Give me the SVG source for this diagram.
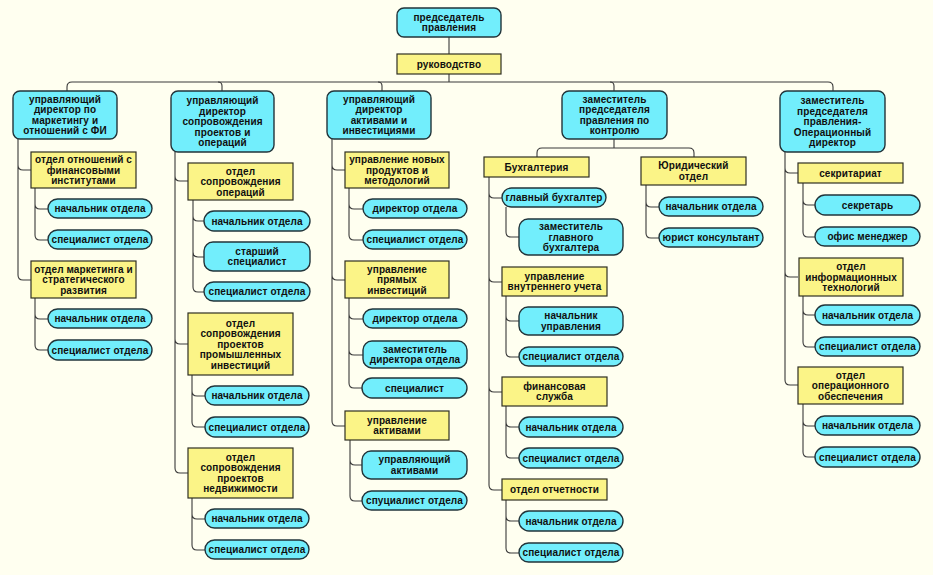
<svg xmlns="http://www.w3.org/2000/svg" width="933" height="575" viewBox="0 0 933 575">
<style>
.bg{fill:#FFFFF0}
.c{fill:#72EEFC;stroke:#22343a;stroke-width:1.4}
.y{fill:#FBF487;stroke:#2f2f22;stroke-width:1.2}
.ln{fill:none;stroke:#3a3a3a;stroke-width:1.1}
text{font-family:"Liberation Sans",Arial,sans-serif;font-weight:bold;font-size:10px;letter-spacing:0.1px;fill:#101010;text-anchor:middle}
</style>
<rect class="bg" x="0" y="0" width="933" height="575"/>
<g id="connectors" class="ln">
<path d="M449,37 V54 M449,74 V82"/>
<path d="M67,91 V87 Q67,82 72,82 H828 Q833,82 833,87 V91"/>
<path d="M218,82 Q222,82 222,86 V91 M378,82 Q382,82 382,86 V91 M610,82 Q614,82 614,86 V91"/>
<path d="M18,139 V275 Q18,280 23,280 H31 M18,165 Q18,170 23,170 H31"/>
<path d="M35,188 V235 Q35,240 40,240 H48 M35,204 Q35,209 40,209 H48"/>
<path d="M35,298 V345 Q35,350 40,350 H48 M35,314 Q35,319 40,319 H48"/>
<path d="M175,152 V468 Q175,473 180,473 H188 M175,176 Q175,181 180,181 H188 M175,339 Q175,344 180,344 H188"/>
<path d="M193,200 V287 Q193,292 198,292 H204 M193,216 Q193,221 198,221 H204 M193,252 Q193,257 198,257 H204"/>
<path d="M192,375 V422 Q192,427 197,427 H205 M192,391 Q192,396 197,396 H205"/>
<path d="M192,498 V545 Q192,550 197,550 H205 M192,514 Q192,519 197,519 H205"/>
<path d="M332,139 V421 Q332,426 337,426 H345 M332,165 Q332,170 337,170 H345 M332,275 Q332,280 337,280 H345"/>
<path d="M349,188 V235 Q349,240 354,240 H363 M349,204 Q349,209 354,209 H363"/>
<path d="M349,298 V383 Q349,388 354,388 H362 M349,314 Q349,319 354,319 H363 M349,350 Q349,355 354,355 H363"/>
<path d="M350,440 V496 Q350,501 355,501 H362 M350,460 Q350,465 355,465 H362"/>
<path d="M614,139 V148 M537,157 V153 Q537,148 542,148 H689 Q694,148 694,153 V157"/>
<path d="M489,177 V485 Q489,490 494,490 H502 M489,193 Q489,198 494,198 H502 M489,277 Q489,282 494,282 H502 M489,387 Q489,392 494,392 H502"/>
<path d="M506,207 V232 Q506,237 511,237 H519"/>
<path d="M506,296 V352 Q506,357 511,357 H519 M506,316 Q506,321 511,321 H519"/>
<path d="M506,406 V453 Q506,458 511,458 H519 M506,422 Q506,427 511,427 H519"/>
<path d="M506,500 V548 Q506,553 511,553 H519 M506,516 Q506,521 511,521 H519"/>
<path d="M646,185 V233 Q646,238 651,238 H659 M646,202 Q646,207 651,207 H659"/>
<path d="M785,152 V380 Q785,385 790,385 H798 M785,168 Q785,173 790,173 H798 M785,272 Q785,277 790,277 H798"/>
<path d="M803,183 V232 Q803,237 808,237 H815 M803,200 Q803,205 808,205 H815"/>
<path d="M803,296 V342 Q803,347 808,347 H815 M803,310 Q803,315 808,315 H815"/>
<path d="M803,404 V452 Q803,457 808,457 H815 M803,421 Q803,426 808,426 H815"/>
</g>

<g id="n-chair"><rect class="c" x="397" y="8" width="104" height="29" rx="7"/><text x="449" y="20.8">председатель</text><text x="449" y="31.3">правления</text></g>
<g id="n-mgmt"><rect class="y" x="397" y="54" width="104" height="20"/><text x="449" y="67.5">руководство</text></g>

<g id="n1"><rect class="c" x="13" y="91" width="104" height="48" rx="7"/><text x="65" y="102.8">управляющий</text><text x="65" y="113.3">директор по</text><text x="65" y="123.8">маркетингу и</text><text x="65" y="134.3">отношений с ФИ</text></g>
<g id="n1a"><rect class="y" x="31" y="152" width="105" height="36"/><text x="83.5" y="163">отдел отношений с</text><text x="83.5" y="173.5">финансовыми</text><text x="83.5" y="184">институтами</text></g>
<g id="n1a1"><rect class="c" x="48" y="199" width="104" height="19" rx="9.5"/><text x="100" y="212">начальник отдела</text></g>
<g id="n1a2"><rect class="c" x="48" y="230" width="104" height="19" rx="9.5"/><text x="100" y="243">специалист отдела</text></g>
<g id="n1b"><rect class="y" x="31" y="261" width="105" height="37"/><text x="83.5" y="272.5">отдел маркетинга и</text><text x="83.5" y="283">стратегического</text><text x="83.5" y="293.5">развития</text></g>
<g id="n1b1"><rect class="c" x="48" y="309" width="104" height="19" rx="9.5"/><text x="100" y="322">начальник отдела</text></g>
<g id="n1b2"><rect class="c" x="48" y="340" width="104" height="20" rx="10"/><text x="100" y="353.5">специалист отдела</text></g>

<g id="n2"><rect class="c" x="171" y="91" width="103" height="61" rx="7"/><text x="222.5" y="104">управляющий</text><text x="222.5" y="114.5">директор</text><text x="222.5" y="125">сопровождения</text><text x="222.5" y="135.5">проектов и</text><text x="222.5" y="146">операций</text></g>
<g id="n2a"><rect class="y" x="188" y="163" width="105" height="37"/><text x="240.5" y="174.5">отдел</text><text x="240.5" y="185">сопровождения</text><text x="240.5" y="195.5">операций</text></g>
<g id="n2a1"><rect class="c" x="204" y="211" width="106" height="20" rx="10"/><text x="257" y="224.5">начальник отдела</text></g>
<g id="n2a2"><rect class="c" x="204" y="242" width="106" height="29" rx="9"/><text x="257" y="254.8">старший</text><text x="257" y="265.3">специалист</text></g>
<g id="n2a3"><rect class="c" x="204" y="282" width="106" height="19" rx="9.5"/><text x="257" y="295">специалист отдела</text></g>
<g id="n2b"><rect class="y" x="188" y="313" width="105" height="62"/><text x="240.5" y="326.5">отдел</text><text x="240.5" y="337">сопровождения</text><text x="240.5" y="347.5">проектов</text><text x="240.5" y="358">промышленных</text><text x="240.5" y="368.5">инвестиций</text></g>
<g id="n2b1"><rect class="c" x="205" y="386" width="104" height="19" rx="9.5"/><text x="257" y="399">начальник отдела</text></g>
<g id="n2b2"><rect class="c" x="205" y="417" width="104" height="20" rx="10"/><text x="257" y="430.5">специалист отдела</text></g>
<g id="n2c"><rect class="y" x="188" y="448" width="105" height="50"/><text x="240.5" y="460.8">отдел</text><text x="240.5" y="471.3">сопровождения</text><text x="240.5" y="481.8">проектов</text><text x="240.5" y="492.3">недвижимости</text></g>
<g id="n2c1"><rect class="c" x="205" y="509" width="104" height="19" rx="9.5"/><text x="257" y="522">начальник отдела</text></g>
<g id="n2c2"><rect class="c" x="205" y="540" width="104" height="19" rx="9.5"/><text x="257" y="553">специалист отдела</text></g>

<g id="n3"><rect class="c" x="327" y="91" width="104" height="48" rx="7"/><text x="379" y="102.8">управляющий</text><text x="379" y="113.3">директор</text><text x="379" y="123.8">активами и</text><text x="379" y="134.3">инвестициями</text></g>
<g id="n3a"><rect class="y" x="345" y="152" width="104" height="36"/><text x="397" y="163">управление новых</text><text x="397" y="173.5">продуктов и</text><text x="397" y="184">методологий</text></g>
<g id="n3a1"><rect class="c" x="363" y="199" width="104" height="19" rx="9.5"/><text x="415" y="212">директор отдела</text></g>
<g id="n3a2"><rect class="c" x="363" y="230" width="104" height="19" rx="9.5"/><text x="415" y="243">специалист отдела</text></g>
<g id="n3b"><rect class="y" x="345" y="261" width="104" height="37"/><text x="397" y="272.5">управление</text><text x="397" y="283">прямых</text><text x="397" y="293.5">инвестиций</text></g>
<g id="n3b1"><rect class="c" x="363" y="309" width="104" height="19" rx="9.5"/><text x="415" y="322">директор отдела</text></g>
<g id="n3b2"><rect class="c" x="363" y="341" width="104" height="27" rx="9"/><text x="415" y="352.8">заместитель</text><text x="415" y="363.3">директора отдела</text></g>
<g id="n3b3"><rect class="c" x="362" y="378" width="105" height="20" rx="10"/><text x="414.5" y="391.5">специалист</text></g>
<g id="n3c"><rect class="y" x="345" y="411" width="104" height="29"/><text x="397" y="423.8">управление</text><text x="397" y="434.3">активами</text></g>
<g id="n3c1"><rect class="c" x="362" y="451" width="105" height="28" rx="9"/><text x="414.5" y="463.3">управляющий</text><text x="414.5" y="473.8">активами</text></g>
<g id="n3c2"><rect class="c" x="362" y="491" width="105" height="19" rx="9.5"/><text x="414.5" y="504">спуциалист отдела</text></g>

<g id="n4"><rect class="c" x="562" y="91" width="105" height="48" rx="7"/><text x="614.5" y="102.8">заместитель</text><text x="614.5" y="113.3">председателя</text><text x="614.5" y="123.8">правления по</text><text x="614.5" y="134.3">контролю</text></g>
<g id="n4a"><rect class="y" x="484" y="157" width="105" height="20"/><text x="536.5" y="170.5">Бухгалтерия</text></g>
<g id="n4a1"><rect class="c" x="502" y="188" width="104" height="19" rx="9.5"/><text x="554" y="201">главный бухгалтер</text></g>
<g id="n4a1a"><rect class="c" x="519" y="219" width="104" height="36" rx="9"/><text x="571" y="230">заместитель</text><text x="571" y="240.5">главного</text><text x="571" y="251">бухгалтера</text></g>
<g id="n4a2"><rect class="y" x="502" y="267" width="105" height="29"/><text x="554.5" y="279.8">управление</text><text x="554.5" y="290.3">внутреннего учета</text></g>
<g id="n4a2a"><rect class="c" x="519" y="307" width="104" height="28" rx="9"/><text x="571" y="319.3">начальник</text><text x="571" y="329.8">управления</text></g>
<g id="n4a2b"><rect class="c" x="519" y="347" width="104" height="19" rx="9.5"/><text x="571" y="360">специалист отдела</text></g>
<g id="n4a3"><rect class="y" x="502" y="377" width="105" height="29"/><text x="554.5" y="389.8">финансовая</text><text x="554.5" y="400.3">служба</text></g>
<g id="n4a3a"><rect class="c" x="519" y="417" width="104" height="20" rx="10"/><text x="571" y="430.5">начальник отдела</text></g>
<g id="n4a3b"><rect class="c" x="519" y="448" width="104" height="20" rx="10"/><text x="571" y="461.5">специалист отдела</text></g>
<g id="n4a4"><rect class="y" x="502" y="479" width="105" height="21"/><text x="554.5" y="493">отдел отчетности</text></g>
<g id="n4a4a"><rect class="c" x="519" y="511" width="104" height="20" rx="10"/><text x="571" y="524.5">начальник отдела</text></g>
<g id="n4a4b"><rect class="c" x="519" y="543" width="104" height="19" rx="9.5"/><text x="571" y="556">специалист отдела</text></g>
<g id="n4b"><rect class="y" x="641" y="157" width="105" height="28"/><text x="693.5" y="169.3">Юридический</text><text x="693.5" y="179.8">отдел</text></g>
<g id="n4b1"><rect class="c" x="659" y="197" width="104" height="19" rx="9.5"/><text x="711" y="210">начальник отдела</text></g>
<g id="n4b2"><rect class="c" x="659" y="228" width="104" height="19" rx="9.5"/><text x="711" y="241">юрист консультант</text></g>

<g id="n5"><rect class="c" x="780" y="91" width="105" height="61" rx="7"/><text x="832.5" y="104">заместитель</text><text x="832.5" y="114.5">председателя</text><text x="832.5" y="125">правления-</text><text x="832.5" y="135.5">Операционный</text><text x="832.5" y="146">директор</text></g>
<g id="n5a"><rect class="y" x="798" y="163" width="105" height="20"/><text x="850.5" y="176.5">секритариат</text></g>
<g id="n5a1"><rect class="c" x="815" y="195" width="105" height="20" rx="10"/><text x="867.5" y="208.5">секретарь</text></g>
<g id="n5a2"><rect class="c" x="815" y="227" width="105" height="19" rx="9.5"/><text x="867.5" y="240">офис менеджер</text></g>
<g id="n5b"><rect class="y" x="799" y="258" width="104" height="38"/><text x="851" y="270">отдел</text><text x="851" y="280.5">информационных</text><text x="851" y="291">технологий</text></g>
<g id="n5b1"><rect class="c" x="815" y="305" width="105" height="20" rx="10"/><text x="867.5" y="318.5">начальник отдела</text></g>
<g id="n5b2"><rect class="c" x="815" y="337" width="105" height="19" rx="9.5"/><text x="867.5" y="350">специалист отдела</text></g>
<g id="n5c"><rect class="y" x="798" y="367" width="105" height="37"/><text x="850.5" y="378.5">отдел</text><text x="850.5" y="389">операционного</text><text x="850.5" y="399.5">обеспечения</text></g>
<g id="n5c1"><rect class="c" x="815" y="416" width="105" height="19" rx="9.5"/><text x="867.5" y="429">начальник отдела</text></g>
<g id="n5c2"><rect class="c" x="815" y="447" width="105" height="20" rx="10"/><text x="867.5" y="460.5">специалист отдела</text></g>
</svg>
